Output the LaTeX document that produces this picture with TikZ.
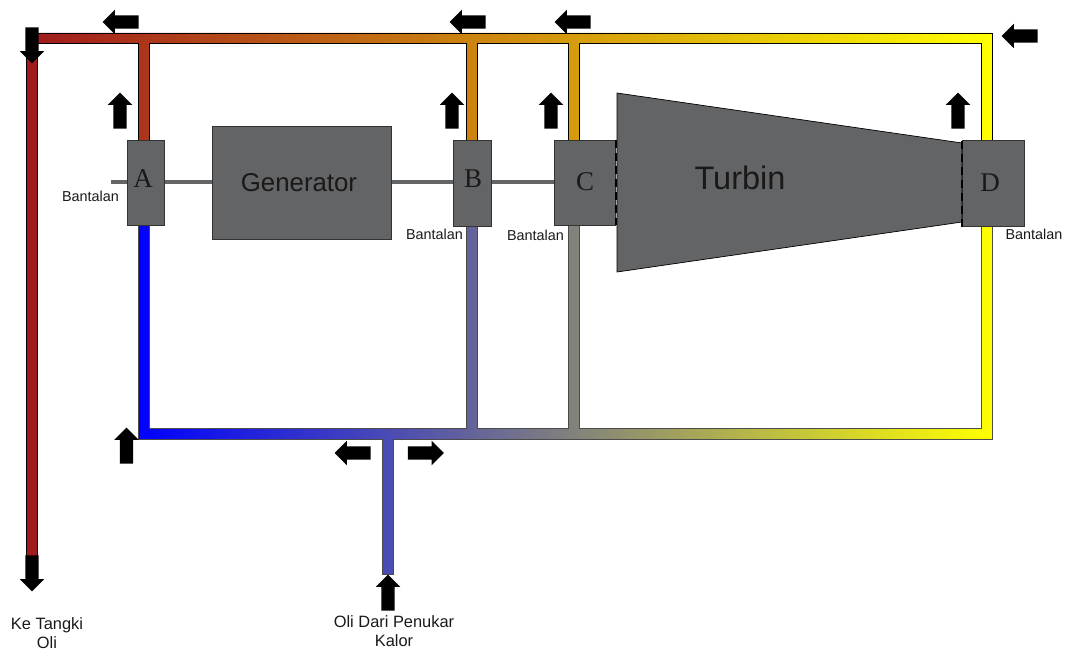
\documentclass[tikz,border=0pt]{standalone}
\usepackage{fontspec}
\setmainfont{Liberation Sans}
\newfontfamily\letterfont{Liberation Serif}
\usetikzlibrary{shapes.arrows}
\definecolor{machine}{RGB}{99,100,102}
\definecolor{hotred}{RGB}{160,26,30}
\definecolor{inktext}{RGB}{25,25,25}
\tikzset{
  x=1pt,y=-1pt,
  pipeup/.style={draw=black,line width=0.8pt,left color=hotred,right color=yellow},
  pipelow/.style={draw=black!70,line width=0.8pt,left color=blue,right color=yellow},
  box/.style={draw=black!80,line width=0.8pt,fill=machine,inner sep=0pt,outer sep=0pt},
  shaft/.style={draw=machine,line width=3.6pt},
  seam/.style={draw=black,line width=1.3pt,dash pattern=on 8pt off 5pt},
  flow/.style={single arrow,fill=black,draw=none,minimum height=36pt,minimum width=24.5pt,
    single arrow head extend=5.5pt,inner sep=6.5pt,outer sep=0pt},
  flowL/.style={flow,shape border rotate=180},
  flowR/.style={flow,shape border rotate=0},
  flowU/.style={flow,shape border rotate=90},
  flowD/.style={flow,shape border rotate=270},
  small/.style={font=\fontsize{14.4}{16}\selectfont,text=inktext,inner sep=0pt},
  caption/.style={font=\fontsize{16.4}{19.5}\selectfont,text=inktext,inner sep=0pt,align=center},
  letter/.style={font=\letterfont\fontsize{27}{30}\selectfont,text=inktext,inner sep=0pt},
}
\begin{document}
\begin{tikzpicture}
\useasboundingbox (0,0) rectangle (1066,650);
% pipes
\draw[pipeup] (26.5,565)--(26.5,33)--(992,33)--(992,140)--(981,140)--(981,43)--(579,43)--(579,140)--(568,140)--(568,43)--(477,43)--(477,140)--(466,140)--(466,43)--(149,43)--(149,140)--(138,140)--(138,43)--(37,43)--(37,565)--cycle;
\draw[pipelow] (138,225)--(138,439)--(382,439)--(382,574)--(393,574)--(393,439)--(992,439)--(992,226)--(981,226)--(981,428)--(579,428)--(579,225)--(568,225)--(568,428)--(477,428)--(477,226)--(466,226)--(466,428)--(149,428)--(149,225)--cycle;
% machines
\coordinate (stub) at (111,182);
\node[box,minimum width=37.5pt,minimum height=85pt] (A) at (146,182.5) {};
\node[box,minimum width=179.5pt,minimum height=113.5pt] (gen) at (302,183) {};
\node[box,minimum width=38.5pt,minimum height=86pt] (B) at (472.5,183) {};
\node[box,minimum width=61.5pt,minimum height=85pt] (C) at (585,182.5) {};
\node[box,minimum width=62.5pt,minimum height=86pt] (D) at (993.5,183) {};
\draw[shaft] (stub) -- (A.west |- stub);
\draw[shaft] (A.east |- stub) -- (gen.west |- stub);
\draw[shaft] (gen.east |- stub) -- (B.west |- stub);
\draw[shaft] (B.east |- stub) -- (C.west |- stub);
\draw[draw=black,line width=0.7pt,fill=machine] (617,93)--(962,143)--(962,222)--(617,272)--cycle;
\draw[seam] (616,140)--(616,225);
\draw[seam] (962,141)--(962,228);
% labels
\node[letter] (la) at (143,179) {A};
\node[letter] (lb) at (473,179) {B};
\node[letter] (lc) at (585,182) {C};
\node[letter] (ld) at (990,183) {D};
\node[font=\fontsize{25.8}{28}\selectfont,text=inktext,inner sep=0pt] (lgen) at (299,183) {Generator};
\node[font=\fontsize{32.5}{36}\selectfont,text=inktext,inner sep=0pt] (lturb) at (740,178) {Turbin};
\node[small] (b1) at (90.5,196) {Bantalan};
\node[small] (b2) at (434.5,234) {Bantalan};
\node[small] (b3) at (535.5,235) {Bantalan};
\node[small] (b4) at (1034,234) {Bantalan};
\node[caption] (c1) at (47,633) {Ke Tangki\\Oli};
\node[caption] (c2) at (394,631) {Oli Dari Penukar\\Kalor};
% flow arrows
\node[flowL] (f1) at (124,22) {};
\node[flowL] (f2) at (471,22) {};
\node[flowL] (f3) at (576,22) {};
\node[flowL] (f4) at (1023,36) {};
\node[flowD] (f5) at (32,42) {};
\node[flowD] (f6) at (32,570) {};
\node[flowU] (f7) at (120,114) {};
\node[flowU] (f8) at (452,114) {};
\node[flowU] (f9) at (551,114) {};
\node[flowU] (f10) at (958,114) {};
\node[flowU] (f11) at (126.5,449) {};
\node[flowL] (f12) at (356,453) {};
\node[flowR] (f13) at (422.5,453) {};
\node[flowU] (f14) at (388,596) {};
\end{tikzpicture}
\end{document}
